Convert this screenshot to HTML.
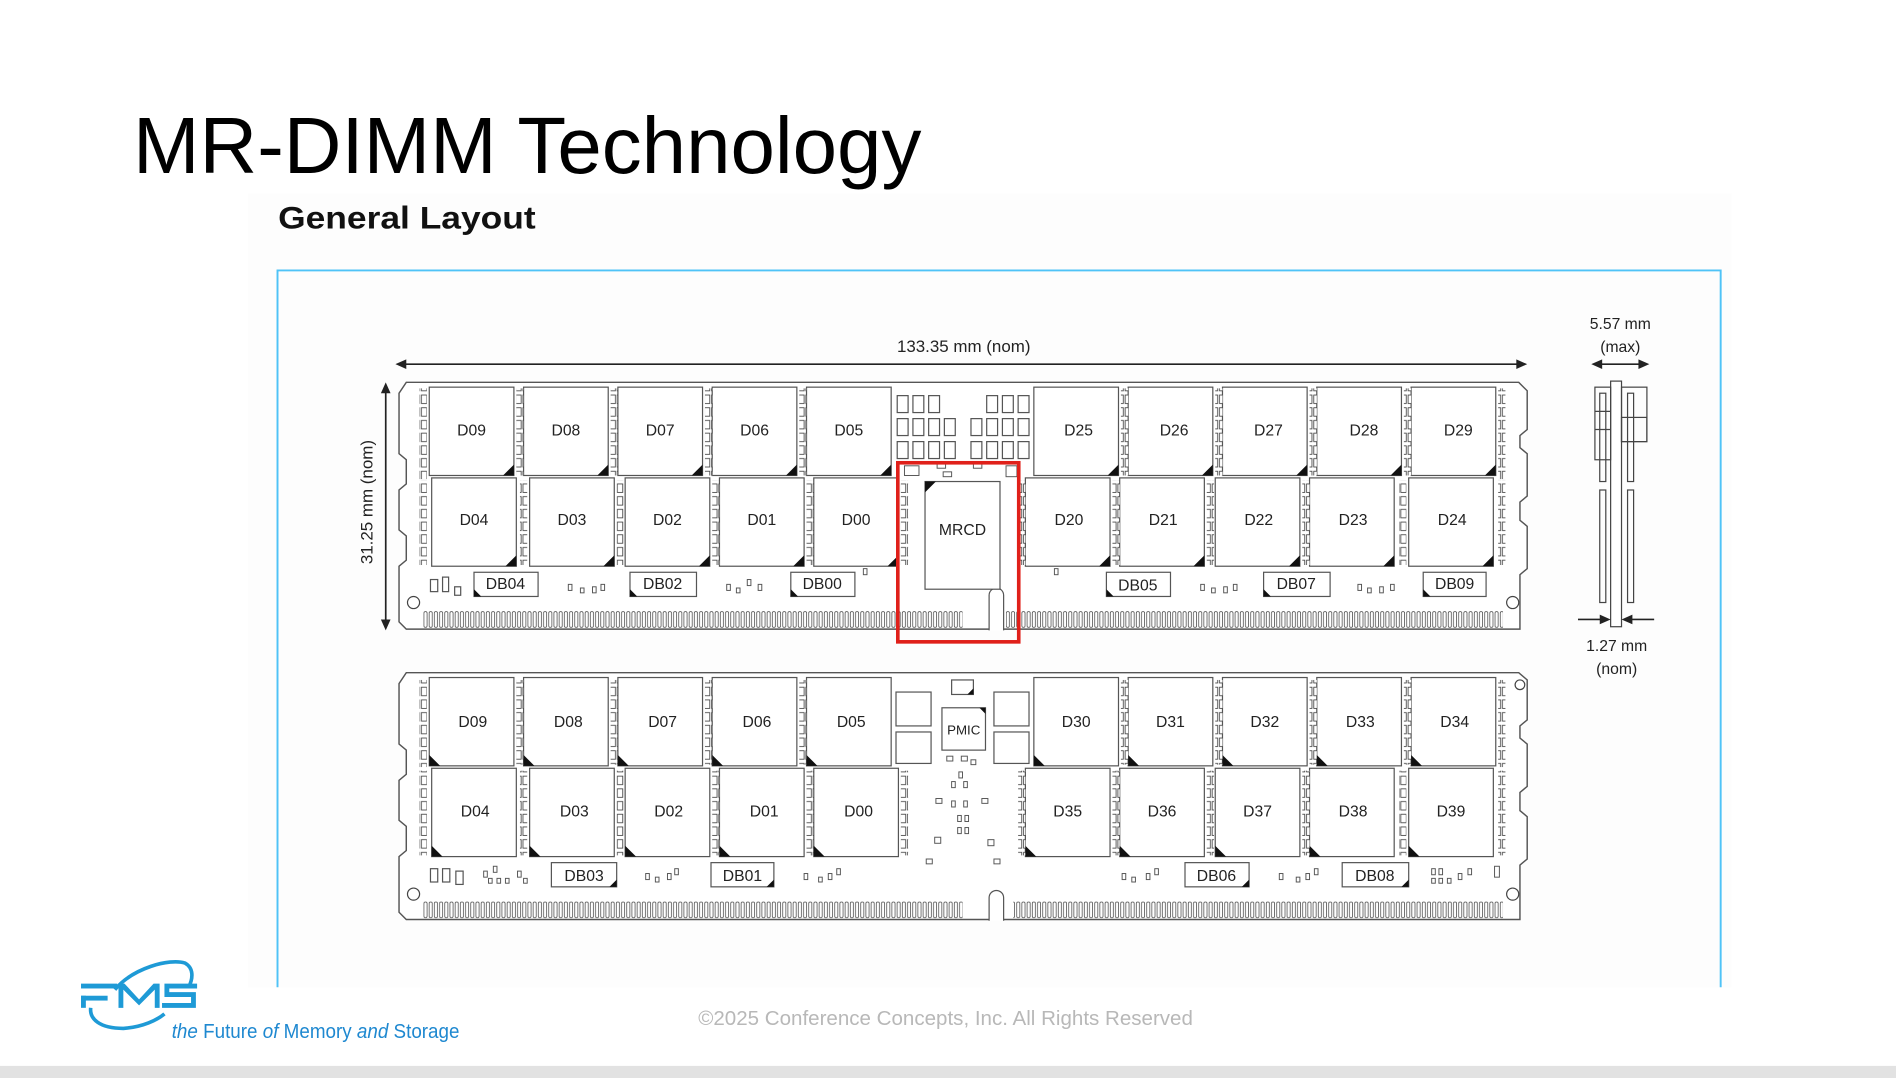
<!DOCTYPE html>
<html><head><meta charset="utf-8"><style>
html,body{margin:0;padding:0;background:#fff;width:1896px;height:1078px;overflow:hidden}
svg{display:block}
text{font-family:"Liberation Sans",sans-serif}
</style></head><body>
<svg width="1896" height="1078" viewBox="0 0 1568 891" preserveAspectRatio="none" xmlns="http://www.w3.org/2000/svg">
<defs>
<pattern id="pins" patternUnits="userSpaceOnUse" x="350" y="505" width="4.3" height="16">
<rect x="0.6" y="0.5" width="2.6" height="13" rx="1.2" fill="none" stroke="#444" stroke-width="0.6"/>
</pattern>
<pattern id="pads" patternUnits="userSpaceOnUse" width="6" height="10.5">
<rect x="0.5" y="1" width="4.5" height="7" fill="#fff" stroke="#444" stroke-width="0.7"/>
</pattern>
</defs>
<rect width="1568" height="891" fill="#fff"/>
<rect x="0" y="881" width="1568" height="10" fill="#e2e2e2"/>
<rect x="205" y="160" width="1227" height="656" fill="#fdfdfd"/>
<text x="110" y="143" font-size="66" fill="#000" textLength="652" lengthAdjust="spacingAndGlyphs">MR-DIMM Technology</text>
<text x="230" y="189" font-size="26" font-weight="bold" fill="#111" textLength="213" lengthAdjust="spacingAndGlyphs">General Layout</text>
<path d="M229.5 816 V223.5 H1423 V816" fill="none" stroke="#4fc3f7" stroke-width="1.6"/>

<g stroke="#222" stroke-width="1.4" fill="#222">
<line x1="334" y1="301" x2="1256" y2="301"/>
<path d="M327 301 l9 -4 v8z M1263 301 l-9 -4 v8z" stroke="none"/>
<line x1="319" y1="323" x2="319" y2="513"/>
<path d="M319 316 l-4 9 h8z M319 521 l-4 -9 h8z" stroke="none"/>
</g>
<text x="797" y="291" font-size="14" text-anchor="middle" fill="#222">133.35 mm (nom)</text>
<text transform="translate(308,415) rotate(-90)" font-size="14" text-anchor="middle" fill="#222">31.25 mm (nom)</text>

<g fill="none" stroke="#444" stroke-width="1">
<rect x="1332" y="315" width="9" height="203" fill="#fff"/>
<rect x="1319" y="320" width="13" height="60"/>
<rect x="1341" y="320" width="21" height="45"/>
<rect x="1341" y="345" width="21" height="20"/>
<line x1="1319" y1="340" x2="1332" y2="340"/><line x1="1319" y1="355" x2="1332" y2="355"/>
<rect x="1323" y="325" width="5" height="73"/>
<rect x="1346" y="325" width="5" height="73"/>
<rect x="1323" y="405" width="5" height="93"/>
<rect x="1346" y="405" width="5" height="93"/>
</g>
<g stroke="#222" stroke-width="1.3" fill="#222">
<line x1="1320" y1="301" x2="1360" y2="301"/>
<path d="M1316 301 l9 -4 v8z M1364 301 l-9 -4 v8z" stroke="none"/>
<line x1="1305" y1="512" x2="1330" y2="512"/><line x1="1343" y1="512" x2="1368" y2="512"/>
<path d="M1332 512 l-9 -4 v8z M1341 512 l9 -4 v8z" stroke="none"/>
</g>
<g font-size="13" fill="#222" text-anchor="middle">
<text x="1340" y="272">5.57 mm</text><text x="1340" y="291">(max)</text>
<text x="1337" y="538">1.27 mm</text><text x="1337" y="557">(nom)</text>
</g>

<!-- TOP BOARD -->
<path d="M336 316 H1256 L1263 323 V355 L1257 360 V370 L1263 375 V410 L1257 415 V430 L1263 435 V470 L1257 475 V520 H336 L330 514 V468 L336 463 V443 L330 438 V405 L336 400 V380 L330 375 V325 Z" fill="#fff" stroke="#555" stroke-width="1.2"/>
<rect x="350" y="505" width="446" height="14" fill="url(#pins)"/>
<rect x="832" y="505" width="411" height="14" fill="url(#pins)"/>
<path d="M818 521 V492 a6 6 0 0 1 12 0 V521" fill="#fff" stroke="#555" stroke-width="1"/>
<circle cx="342" cy="498" r="5" fill="none" stroke="#444"/><circle cx="1251" cy="498" r="5" fill="none" stroke="#444"/>
<rect x="347" y="321" width="6" height="75" fill="url(#pads)"/>
<rect x="347" y="397" width="6" height="70" fill="url(#pads)"/>
<rect x="1239" y="321" width="6" height="75" fill="url(#pads)"/>
<rect x="1239" y="397" width="6" height="70" fill="url(#pads)"/>
<g fill="#fff" stroke="#555" stroke-width="1">
<rect x="355" y="320" width="70" height="73"/><rect x="433" y="320" width="70" height="73"/><rect x="511" y="320" width="70" height="73"/><rect x="589" y="320" width="70" height="73"/><rect x="667" y="320" width="70" height="73"/>
<rect x="855" y="320" width="70" height="73"/><rect x="933" y="320" width="70" height="73"/><rect x="1011" y="320" width="70" height="73"/><rect x="1089" y="320" width="70" height="73"/><rect x="1167" y="320" width="70" height="73"/>
<rect x="357" y="395" width="70" height="73"/><rect x="438" y="395" width="70" height="73"/><rect x="517" y="395" width="70" height="73"/><rect x="595" y="395" width="70" height="73"/><rect x="673" y="395" width="70" height="73"/>
<rect x="848" y="395" width="70" height="73"/><rect x="926" y="395" width="70" height="73"/><rect x="1005" y="395" width="70" height="73"/><rect x="1083" y="395" width="70" height="73"/><rect x="1165" y="395" width="70" height="73"/>
<rect x="765" y="398" width="62" height="89"/>
<rect x="392" y="473" width="53" height="20"/><rect x="521" y="473" width="55" height="20"/><rect x="654" y="473" width="53" height="20"/>
<rect x="915" y="473" width="53" height="20"/><rect x="1045" y="473" width="55" height="20"/><rect x="1177" y="473" width="52" height="20"/>
</g>
<rect x="427" y="321" width="6" height="72" fill="url(#pads)"/><rect x="505" y="321" width="6" height="72" fill="url(#pads)"/><rect x="583" y="321" width="6" height="72" fill="url(#pads)"/><rect x="661" y="321" width="6" height="72" fill="url(#pads)"/>
<rect x="927" y="321" width="6" height="72" fill="url(#pads)"/><rect x="1005" y="321" width="6" height="72" fill="url(#pads)"/><rect x="1083" y="321" width="6" height="72" fill="url(#pads)"/><rect x="1161" y="321" width="6" height="72" fill="url(#pads)"/>
<rect x="430" y="397" width="6" height="70" fill="url(#pads)"/><rect x="510" y="397" width="6" height="70" fill="url(#pads)"/><rect x="589" y="397" width="6" height="70" fill="url(#pads)"/><rect x="667" y="397" width="6" height="70" fill="url(#pads)"/><rect x="745" y="397" width="6" height="70" fill="url(#pads)"/>
<rect x="842" y="397" width="6" height="70" fill="url(#pads)"/><rect x="920" y="397" width="6" height="70" fill="url(#pads)"/><rect x="998" y="397" width="6" height="70" fill="url(#pads)"/><rect x="1077" y="397" width="6" height="70" fill="url(#pads)"/><rect x="1157" y="397" width="6" height="70" fill="url(#pads)"/>
<g fill="#111">
<path d="M425 393 h-9 l9 -9z M503 393 h-9 l9 -9z M581 393 h-9 l9 -9z M659 393 h-9 l9 -9z M737 393 h-9 l9 -9z M925 393 h-9 l9 -9z M1003 393 h-9 l9 -9z M1081 393 h-9 l9 -9z M1159 393 h-9 l9 -9z M1237 393 h-9 l9 -9z"/>
<path d="M427 468 h-9 l9 -9z M508 468 h-9 l9 -9z M587 468 h-9 l9 -9z M665 468 h-9 l9 -9z M743 468 h-9 l9 -9z M918 468 h-9 l9 -9z M996 468 h-9 l9 -9z M1075 468 h-9 l9 -9z M1153 468 h-9 l9 -9z M1235 468 h-9 l9 -9z"/>
<path d="M765 398 h9 l-9 9z"/>
<path d="M392 493 v-6 l6 6z M521 493 v-6 l6 6z M654 493 v-6 l6 6z M915 493 v-6 l6 6z M1045 493 v-6 l6 6z M1177 493 v-6 l6 6z"/>
</g>
<g fill="#fff" stroke="#555" stroke-width="1">
<rect x="742" y="327" width="9" height="14"/><rect x="755" y="327" width="9" height="14"/><rect x="768" y="327" width="9" height="14"/>
<rect x="816" y="327" width="9" height="14"/><rect x="829" y="327" width="9" height="14"/><rect x="842" y="327" width="9" height="14"/>
<rect x="742" y="346" width="9" height="14"/><rect x="755" y="346" width="9" height="14"/><rect x="768" y="346" width="9" height="14"/><rect x="781" y="346" width="9" height="14"/>
<rect x="803" y="346" width="9" height="14"/><rect x="816" y="346" width="9" height="14"/><rect x="829" y="346" width="9" height="14"/><rect x="842" y="346" width="9" height="14"/>
<rect x="742" y="365" width="9" height="14"/><rect x="755" y="365" width="9" height="14"/><rect x="768" y="365" width="9" height="14"/><rect x="781" y="365" width="9" height="14"/>
<rect x="803" y="365" width="9" height="14"/><rect x="816" y="365" width="9" height="14"/><rect x="829" y="365" width="9" height="14"/><rect x="842" y="365" width="9" height="14"/>
<rect x="356" y="479" width="6" height="10"/><rect x="366" y="477" width="5" height="12"/><rect x="376" y="485" width="5" height="7"/>
</g>
<g fill="#fff" stroke="#555" stroke-width="0.8">
<rect x="470" y="483" width="3" height="5"/><rect x="480" y="486" width="3" height="4"/><rect x="490" y="485" width="3" height="5"/><rect x="497" y="483" width="3" height="5"/>
<rect x="601" y="483" width="3" height="5"/><rect x="609" y="486" width="3" height="4"/><rect x="618" y="479" width="3" height="5"/><rect x="627" y="483" width="3" height="5"/>
<rect x="993" y="483" width="3" height="5"/><rect x="1002" y="486" width="3" height="4"/><rect x="1012" y="485" width="3" height="5"/><rect x="1020" y="483" width="3" height="5"/>
<rect x="1123" y="483" width="3" height="5"/><rect x="1131" y="486" width="3" height="4"/><rect x="1141" y="485" width="3" height="5"/><rect x="1150" y="483" width="3" height="5"/>
<rect x="872" y="470" width="3" height="5"/><rect x="714" y="470" width="3" height="5"/>
<rect x="748" y="385" width="12" height="8"/><rect x="832" y="385" width="9" height="9"/><rect x="775" y="383" width="7" height="4"/><rect x="805" y="383" width="7" height="4"/><rect x="780" y="390" width="7" height="4"/>
</g>
<g font-size="13" fill="#222" text-anchor="middle">
<text x="390" y="360">D09</text><text x="468" y="360">D08</text><text x="546" y="360">D07</text><text x="624" y="360">D06</text><text x="702" y="360">D05</text>
<text x="892" y="360">D25</text><text x="971" y="360">D26</text><text x="1049" y="360">D27</text><text x="1128" y="360">D28</text><text x="1206" y="360">D29</text>
<text x="392" y="434">D04</text><text x="473" y="434">D03</text><text x="552" y="434">D02</text><text x="630" y="434">D01</text><text x="708" y="434">D00</text>
<text x="884" y="434">D20</text><text x="962" y="434">D21</text><text x="1041" y="434">D22</text><text x="1119" y="434">D23</text><text x="1201" y="434">D24</text>
<text x="796" y="442">MRCD</text>
<text x="418" y="487">DB04</text><text x="548" y="487">DB02</text><text x="680" y="487">DB00</text><text x="941" y="488">DB05</text><text x="1072" y="487">DB07</text><text x="1203" y="487">DB09</text>
</g>
<rect x="742.5" y="382.5" width="100" height="148" fill="none" stroke="#e0201a" stroke-width="3"/>

<!-- BOTTOM BOARD -->
<path d="M336 556 H1256 L1263 562 V595 L1257 600 V610 L1263 615 V650 L1257 655 V670 L1263 675 V710 L1257 715 V760 H336 L330 754 V708 L336 703 V683 L330 678 V645 L336 640 V620 L330 615 V565 Z" fill="#fff" stroke="#555" stroke-width="1.2"/>
<rect x="350" y="745" width="446" height="14" fill="url(#pins)"/>
<rect x="838" y="745" width="405" height="14" fill="url(#pins)"/>
<path d="M818 761 V742 a6 6 0 0 1 12 0 V761" fill="#fff" stroke="#555" stroke-width="1"/>
<circle cx="342" cy="739" r="5" fill="none" stroke="#444"/><circle cx="1251" cy="739" r="5" fill="none" stroke="#444"/><circle cx="1257" cy="566" r="4" fill="none" stroke="#444"/>
<rect x="347" y="562" width="6" height="72" fill="url(#pads)"/><rect x="347" y="637" width="6" height="70" fill="url(#pads)"/>
<rect x="1239" y="562" width="6" height="72" fill="url(#pads)"/><rect x="1239" y="637" width="6" height="70" fill="url(#pads)"/>
<g fill="#fff" stroke="#555" stroke-width="1">
<rect x="355" y="560" width="70" height="73"/><rect x="433" y="560" width="70" height="73"/><rect x="511" y="560" width="70" height="73"/><rect x="589" y="560" width="70" height="73"/><rect x="667" y="560" width="70" height="73"/>
<rect x="855" y="560" width="70" height="73"/><rect x="933" y="560" width="70" height="73"/><rect x="1011" y="560" width="70" height="73"/><rect x="1089" y="560" width="70" height="73"/><rect x="1167" y="560" width="70" height="73"/>
<rect x="357" y="635" width="70" height="73"/><rect x="438" y="635" width="70" height="73"/><rect x="517" y="635" width="70" height="73"/><rect x="595" y="635" width="70" height="73"/><rect x="673" y="635" width="70" height="73"/>
<rect x="848" y="635" width="70" height="73"/><rect x="926" y="635" width="70" height="73"/><rect x="1005" y="635" width="70" height="73"/><rect x="1083" y="635" width="70" height="73"/><rect x="1165" y="635" width="70" height="73"/>
<rect x="779" y="585" width="36" height="35"/>
<rect x="741" y="572" width="29" height="28"/><rect x="741" y="605" width="29" height="26"/><rect x="822" y="572" width="29" height="28"/><rect x="822" y="605" width="29" height="26"/>
<rect x="787" y="562" width="18" height="12"/>
<rect x="456" y="713" width="54" height="20"/><rect x="588" y="713" width="52" height="20"/><rect x="980" y="713" width="53" height="20"/><rect x="1110" y="713" width="55" height="20"/>
<rect x="356" y="718" width="6" height="11"/><rect x="366" y="718" width="6" height="11"/><rect x="377" y="720" width="6" height="11"/>
</g>
<rect x="427" y="562" width="6" height="70" fill="url(#pads)"/><rect x="505" y="562" width="6" height="70" fill="url(#pads)"/><rect x="583" y="562" width="6" height="70" fill="url(#pads)"/><rect x="661" y="562" width="6" height="70" fill="url(#pads)"/>
<rect x="927" y="562" width="6" height="70" fill="url(#pads)"/><rect x="1005" y="562" width="6" height="70" fill="url(#pads)"/><rect x="1083" y="562" width="6" height="70" fill="url(#pads)"/><rect x="1161" y="562" width="6" height="70" fill="url(#pads)"/>
<rect x="430" y="637" width="6" height="70" fill="url(#pads)"/><rect x="510" y="637" width="6" height="70" fill="url(#pads)"/><rect x="589" y="637" width="6" height="70" fill="url(#pads)"/><rect x="667" y="637" width="6" height="70" fill="url(#pads)"/><rect x="745" y="637" width="6" height="70" fill="url(#pads)"/>
<rect x="842" y="637" width="6" height="70" fill="url(#pads)"/><rect x="920" y="637" width="6" height="70" fill="url(#pads)"/><rect x="998" y="637" width="6" height="70" fill="url(#pads)"/><rect x="1077" y="637" width="6" height="70" fill="url(#pads)"/><rect x="1157" y="637" width="6" height="70" fill="url(#pads)"/>
<g fill="#111">
<path d="M355 633 h9 l-9 -9z M433 633 h9 l-9 -9z M511 633 h9 l-9 -9z M589 633 h9 l-9 -9z M667 633 h9 l-9 -9z M855 633 h9 l-9 -9z M933 633 h9 l-9 -9z M1011 633 h9 l-9 -9z M1089 633 h9 l-9 -9z M1167 633 h9 l-9 -9z"/>
<path d="M357 708 h9 l-9 -9z M438 708 h9 l-9 -9z M517 708 h9 l-9 -9z M595 708 h9 l-9 -9z M673 708 h9 l-9 -9z M848 708 h9 l-9 -9z M926 708 h9 l-9 -9z M1005 708 h9 l-9 -9z M1083 708 h9 l-9 -9z M1165 708 h9 l-9 -9z"/>
<path d="M510 733 v-6 l-6 6z M640 733 v-6 l-6 6z M1033 733 v-6 l-6 6z M1165 733 v-6 l-6 6z M805 574 v-5 l-5 5z M815 585 v5 l-5 -5z"/>
</g>
<g fill="#fff" stroke="#555" stroke-width="0.8">
<rect x="793" y="638" width="3" height="5"/><rect x="787" y="646" width="3" height="5"/><rect x="797" y="646" width="3" height="5"/><rect x="774" y="660" width="5" height="4"/><rect x="787" y="662" width="3" height="5"/><rect x="797" y="662" width="3" height="5"/><rect x="812" y="660" width="5" height="4"/><rect x="792" y="674" width="3" height="5"/><rect x="798" y="674" width="3" height="5"/><rect x="792" y="684" width="3" height="5"/><rect x="798" y="684" width="3" height="5"/><rect x="773" y="692" width="5" height="5"/><rect x="817" y="694" width="5" height="5"/><rect x="766" y="710" width="5" height="4"/><rect x="822" y="710" width="5" height="4"/>
<rect x="783" y="625" width="5" height="4"/><rect x="795" y="625" width="5" height="4"/><rect x="803" y="628" width="4" height="4"/>
<rect x="400" y="720" width="3" height="5"/><rect x="408" y="716" width="3" height="5"/><rect x="404" y="726" width="3" height="4"/><rect x="411" y="726" width="3" height="4"/><rect x="418" y="726" width="3" height="4"/><rect x="428" y="720" width="3" height="5"/><rect x="433" y="726" width="3" height="4"/>
<rect x="534" y="722" width="3" height="5"/><rect x="542" y="725" width="3" height="4"/><rect x="552" y="722" width="3" height="5"/><rect x="558" y="718" width="3" height="5"/>
<rect x="665" y="722" width="3" height="5"/><rect x="677" y="725" width="3" height="4"/><rect x="685" y="722" width="3" height="5"/><rect x="692" y="718" width="3" height="5"/>
<rect x="928" y="722" width="3" height="5"/><rect x="936" y="725" width="3" height="4"/><rect x="948" y="722" width="3" height="5"/><rect x="955" y="718" width="3" height="5"/>
<rect x="1058" y="722" width="3" height="5"/><rect x="1072" y="725" width="3" height="4"/><rect x="1080" y="722" width="3" height="5"/><rect x="1087" y="718" width="3" height="5"/>
<rect x="1184" y="718" width="3" height="5"/><rect x="1190" y="718" width="3" height="5"/><rect x="1184" y="726" width="3" height="4"/><rect x="1190" y="726" width="3" height="4"/><rect x="1197" y="726" width="3" height="4"/><rect x="1206" y="722" width="3" height="5"/><rect x="1214" y="718" width="3" height="5"/><rect x="1236" y="716" width="4" height="9"/>
</g>
<g font-size="13" fill="#222" text-anchor="middle">
<text x="391" y="601">D09</text><text x="470" y="601">D08</text><text x="548" y="601">D07</text><text x="626" y="601">D06</text><text x="704" y="601">D05</text>
<text x="890" y="601">D30</text><text x="968" y="601">D31</text><text x="1046" y="601">D32</text><text x="1125" y="601">D33</text><text x="1203" y="601">D34</text>
<text x="393" y="675">D04</text><text x="475" y="675">D03</text><text x="553" y="675">D02</text><text x="632" y="675">D01</text><text x="710" y="675">D00</text>
<text x="883" y="675">D35</text><text x="961" y="675">D36</text><text x="1040" y="675">D37</text><text x="1119" y="675">D38</text><text x="1200" y="675">D39</text>
<text x="797" y="607" font-size="11">PMIC</text>
<text x="483" y="728">DB03</text><text x="614" y="728">DB01</text><text x="1006" y="728">DB06</text><text x="1137" y="728">DB08</text>
</g>

<text x="782" y="847" font-size="17" fill="#b8b8b8" text-anchor="middle">©2025 Conference Concepts, Inc. All Rights Reserved</text>
<g fill="none" stroke="#1e9ad6">
<path d="M95 818 C110 800 140 792 153 796 C160 800 160 808 156 816" stroke-width="3"/>
<path d="M75 833 C74 842 82 850 102 850 C118 849 130 843 136 838" stroke-width="3"/>
</g>
<g fill="#1e9ad6">
<rect x="67" y="813" width="30" height="4"/><rect x="67" y="823" width="22" height="4"/><rect x="67" y="823" width="4" height="10"/>
<path d="M98 833 v-20 h5 l12 13 l12 -13 h5 v20 h-4 v-15 l-13 13 l-13 -13 v15z"/>
<path d="M163 813 h-27 v11 h22 v5 h-24 v4 h28 v-13 h-22 v-3 h23z"/>
</g>
<text x="142" y="858" font-size="17" fill="#1e88d0" textLength="238" lengthAdjust="spacingAndGlyphs"><tspan font-style="italic">the</tspan> Future <tspan font-style="italic">of</tspan> Memory <tspan font-style="italic">and</tspan> Storage</text>
</svg>
</body></html>
